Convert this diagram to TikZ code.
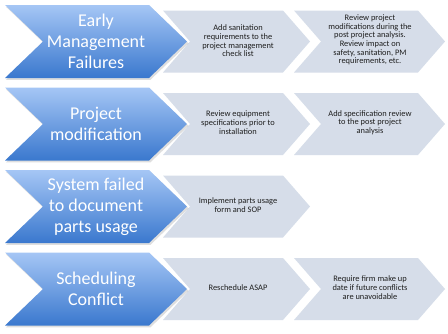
\documentclass[tikz,border=0pt]{standalone}
\usepackage{fontspec}
\setmainfont{Carlito}
\definecolor{bluetop}{RGB}{165,198,245}
\definecolor{bluebot}{RGB}{58,120,206}
\definecolor{grayfill}{RGB}{214,221,233}
\definecolor{txtgray}{RGB}{30,30,30}
\newcommand\chevpath[5]{(#1,#3-#4) -- (#2-#5,#3-#4) -- (#2,#3) -- (#2-#5,#3+#4) -- (#1,#3+#4) -- (#1+#5,#3) -- cycle}
\begin{document}
\begin{tikzpicture}[x=1pt,y=-1pt,
  bigchev/.style={top color=bluetop, bottom color=bluebot, draw=none},
  shadowchev/.style={fill=black, opacity=0.13, draw=none},
  graychev/.style={fill=grayfill, draw=none},
  bigtext/.style={text=white, font=\fontsize{18}{21}\selectfont, align=center, inner sep=0pt},
  smalltext/.style={text=txtgray, font=\fontsize{8.4}{8.7}\selectfont, align=center, inner sep=0pt}]
\useasboundingbox[fill=white] (0,0) rectangle (448,333);
\foreach \yc in {41.5,124,206.5,289}{
  \path[graychev] \chevpath{163}{310}{\yc}{31}{27};
  \path[shadowchev] \chevpath{6}{188.5}{\yc+1.8}{36.5}{38};
  \path[bigchev] \chevpath{5}{187}{\yc}{36.5}{38};
}
\foreach \yc in {41.5,124,289}{
  \path[graychev] \chevpath{294}{445}{\yc}{31}{27};
}
% row 1
\node[bigtext] (b1) at (96,41.5) {Early\\Management\\Failures};
\node[smalltext] (g11) at (238,41) {Add sanitation\\requirements to the\\project management\\check list};
\node[smalltext] (g12) at (370,40) {Review project\\modifications during the\\post project analysis.\\Review impact on\\safety, sanitation, PM\\requirements, etc.};
% row 2
\node[bigtext] (b2) at (96,124) {Project\\modification};
\node[smalltext] (g21) at (238,122.5) {Review equipment\\specifications prior to\\installation};
\node[smalltext] (g22) at (370,122.5) {Add specification review\\to the post project\\analysis};
% row 3
\node[bigtext] (b3) at (96,206.5) {System failed\\to document\\parts usage};
\node[smalltext] (g31) at (238,205) {Implement parts usage\\form and SOP};
% row 4
\node[bigtext] (b4) at (96,289) {Scheduling\\Conflict};
\node[smalltext] (g41) at (238,287.5) {Reschedule ASAP};
\node[smalltext] (g42) at (370,287.5) {Require firm make up\\date if future conflicts\\are unavoidable};
\end{tikzpicture}
\end{document}
